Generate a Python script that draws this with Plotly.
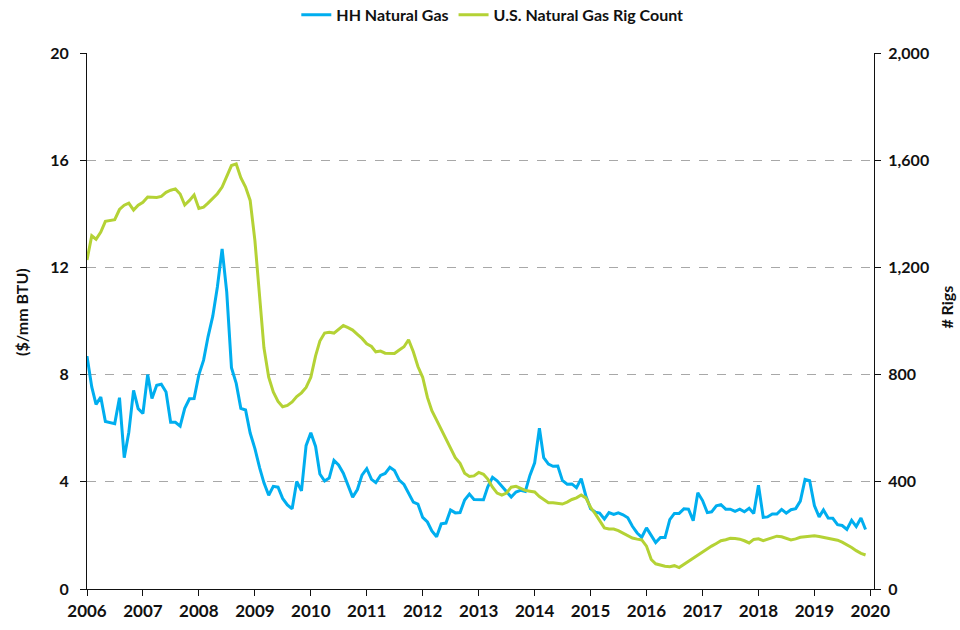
import plotly.graph_objects as go
import pandas as pd

dates = pd.date_range("2006-01-01", "2019-12-01", freq="MS")

hh_price = [
    8.69, 7.54, 6.89, 7.16, 6.25, 6.21, 6.17, 7.14, 4.90, 5.85, 7.41, 6.73,
    6.55, 8.00, 7.11, 7.60, 7.64, 7.35, 6.22, 6.22, 6.08, 6.74, 7.10, 7.11,
    7.99, 8.54, 9.41, 10.18, 11.27, 12.69, 11.09, 8.26, 7.67, 6.74, 6.68, 5.82,
    5.24, 4.52, 3.96, 3.50, 3.83, 3.80, 3.38, 3.14, 2.99, 4.01, 3.66, 5.35,
    5.83, 5.32, 4.29, 4.03, 4.14, 4.80, 4.63, 4.32, 3.89, 3.43, 3.71, 4.25,
    4.49, 4.09, 3.97, 4.24, 4.31, 4.54, 4.42, 4.06, 3.90, 3.57, 3.24, 3.17,
    2.67, 2.50, 2.17, 1.95, 2.43, 2.46, 2.95, 2.84, 2.85, 3.32, 3.54, 3.34,
    3.33, 3.33, 3.81, 4.17, 4.04, 3.83, 3.62, 3.43, 3.62, 3.68, 3.64, 4.24,
    4.71, 6.00, 4.90, 4.66, 4.58, 4.59, 4.05, 3.91, 3.92, 3.78, 4.12, 3.48,
    2.99, 2.87, 2.83, 2.61, 2.85, 2.78, 2.84, 2.77, 2.66, 2.34, 2.09, 1.93,
    2.28, 1.99, 1.73, 1.92, 1.92, 2.59, 2.82, 2.82, 2.99, 2.98, 2.55, 3.59,
    3.30, 2.85, 2.88, 3.10, 3.15, 2.98, 2.98, 2.90, 2.98, 2.88, 3.01, 2.82,
    3.87, 2.67, 2.69, 2.80, 2.80, 2.97, 2.83, 2.96, 3.00, 3.28, 4.09, 4.04,
    3.11, 2.69, 2.95, 2.65, 2.64, 2.40, 2.37, 2.22, 2.56, 2.33, 2.65, 2.22,
]

rig_count = [
    1228, 1318, 1305, 1332, 1372, 1375, 1378, 1416, 1432, 1440, 1414, 1432,
    1443, 1463, 1462, 1461, 1465, 1480, 1488, 1493, 1474, 1433, 1450, 1470,
    1420, 1425, 1440, 1458, 1475, 1500, 1538, 1580, 1586, 1535, 1500, 1450,
    1300, 1080, 900, 790, 735, 700, 680, 685, 698, 718, 732, 752,
    790, 870, 925, 955, 958, 955, 970, 983, 975, 966, 950, 935,
    915, 905, 885, 888, 880, 879, 879, 892, 904, 930, 885, 830,
    790, 715, 665, 630, 595, 560, 525, 490, 469, 432, 420, 422,
    435, 428, 410, 380, 358, 350, 358, 380, 383, 376, 368, 365,
    362, 345, 335, 322, 322, 320, 317, 324, 334, 340, 351, 340,
    305, 280, 257, 228, 224, 224, 218, 208, 200, 190, 186, 183,
    160, 110, 94, 88, 85, 83, 87, 80, 92, 102, 115, 127,
    138, 152, 160, 170, 180, 184, 189, 188, 186, 180, 172, 185,
    187, 180, 185, 190, 197, 195, 190, 183, 187, 193, 195, 198,
    199, 196, 193, 190, 186, 182, 175, 166, 155, 143, 133, 127,
]

series_names = ["HH Natural Gas", "U.S. Natural Gas Rig Count"]
left_ticks = [0, 4, 8, 12, 16, 20]
right_ticks = [0, 400, 800, 1200, 1600, 2000]
left_title = "($/mm BTU)"
right_title = "# Rigs"

BLUE = "#00AEEF"
GREEN = "#B4D235"
FONT = "Lato"
INK = "#111111"
X_RANGE = ["2006-01-01", "2020-01-25"]

fig = go.Figure()
fig.add_trace(go.Scatter(x=dates, y=hh_price, name=series_names[0], mode="lines",
                         line=dict(color=BLUE, width=3), yaxis="y"))
fig.add_trace(go.Scatter(x=dates, y=rig_count, name=series_names[1], mode="lines",
                         line=dict(color=GREEN, width=3), yaxis="y2"))

tickfont = dict(size=16, family=FONT, color=INK, weight="bold")

fig.update_layout(
    width=960, height=630,
    margin=dict(l=87, r=86, t=53, b=41, autoexpand=False),
    paper_bgcolor="white", plot_bgcolor="white",
    font=dict(family=FONT, size=15, color=INK),
    showlegend=True,
    legend=dict(orientation="h", x=0.515, xanchor="center", y=1.071, yanchor="middle",
                yref="paper", font=dict(size=16, family=FONT, color=INK, weight="bold"),
                tracegroupgap=0),
    xaxis=dict(
        type="date", range=X_RANGE,
        tick0="2006-01-01", dtick="M12", tickformat="%Y",
        showgrid=False, zeroline=False,
        showline=True, linecolor=INK, linewidth=1.2,
        ticks="outside", ticklen=6, tickcolor=INK, tickwidth=1.2,
        tickfont=dict(size=17, family=FONT, color=INK, weight="bold"),
    ),
    xaxis2=dict(
        type="date", range=X_RANGE, overlaying="x", side="bottom", anchor="y",
        tick0="2006-01-01", dtick="M12", showticklabels=False,
        showgrid=False, zeroline=False, showline=False,
        ticks="inside", ticklen=6, tickcolor=INK, tickwidth=1.2,
    ),
    yaxis=dict(
        range=[0, 20], tickvals=left_ticks, ticktext=[str(v) for v in left_ticks],
        showgrid=True, gridcolor="#A8A8A8", griddash="dash", gridwidth=1.3,
        zeroline=False, showline=True, linecolor=INK, linewidth=1.2,
        ticks="outside", ticklen=6, tickcolor=INK, tickwidth=1.2,
        ticklabelstandoff=8,
        tickfont=tickfont,
    ),
    yaxis3=dict(
        range=[0, 20], tickvals=left_ticks, overlaying="y", side="left",
        showticklabels=False, showgrid=False, zeroline=False, showline=False,
        ticks="inside", ticklen=5, tickcolor=INK, tickwidth=1.2,
    ),
    yaxis2=dict(
        range=[0, 2000], tickvals=right_ticks, ticktext=[f"{v:,}" for v in right_ticks],
        overlaying="y", side="right", showgrid=False, zeroline=False,
        showline=True, linecolor=INK, linewidth=1.2,
        ticks="outside", ticklen=6, tickcolor=INK, tickwidth=1.2,
        ticklabelstandoff=4,
        tickfont=tickfont,
    ),
    yaxis4=dict(
        range=[0, 2000], tickvals=right_ticks, overlaying="y", side="right",
        showticklabels=False, showgrid=False, zeroline=False, showline=False,
        ticks="inside", ticklen=5, tickcolor=INK, tickwidth=1.2,
    ),
    annotations=[
        dict(text=left_title, xref="paper", yref="paper", x=(22 - 87) / 787, y=0.517,
             textangle=-90, showarrow=False, xanchor="center", yanchor="middle",
             font=dict(size=16, family=FONT, color=INK, weight="bold")),
        dict(text=right_title, xref="paper", yref="paper", x=(947 - 87) / 787, y=0.525,
             textangle=-90, showarrow=False, xanchor="center", yanchor="middle",
             font=dict(size=16, family=FONT, color=INK, weight="bold")),
    ],
)

fig.write_html("out.html", config={"displayModeBar": False},
               post_script="document.body.style.margin='0';")
